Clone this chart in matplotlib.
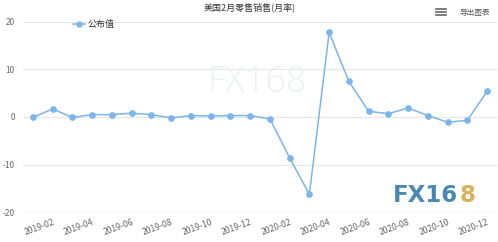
import matplotlib
matplotlib.use("Agg")
import matplotlib.pyplot as plt
from matplotlib.lines import Line2D

plt.rcParams['font.family'] = ['Noto Sans CJK SC', 'DejaVu Sans']

months = ['2019-01', '2019-02', '2019-03', '2019-04', '2019-05', '2019-06',
          '2019-07', '2019-08', '2019-09', '2019-10', '2019-11', '2019-12',
          '2020-01', '2020-02', '2020-03', '2020-04', '2020-05', '2020-06',
          '2020-07', '2020-08', '2020-09', '2020-10', '2020-11', '2020-12']
values = [-0.1, 1.7, -0.1, 0.5, 0.5, 0.8, 0.5, -0.2, 0.3, 0.2, 0.3, 0.3,
          -0.4, -8.6, -16.3, 17.8, 7.5, 1.2, 0.7, 1.9, 0.3, -1.1, -0.7, 5.4]
yticks = [-20, -10, 0, 10, 20]
series_name = '公布值'
title = '美国2月零售销售(月率)'

W, H = 498, 242
fig = plt.figure(figsize=(W / 100, H / 100), dpi=100)
ax = fig.add_axes([23 / W, (H - 212) / H, (497 - 23) / W, (212 - 22) / H])

line_color = '#7cb5ec'
x = list(range(len(months)))
ax.plot(x, values, color=line_color, lw=1.1, marker='o', ms=3.8,
        markerfacecolor=line_color, markeredgecolor=line_color, zorder=3)

ax.set_xlim(-0.5, len(months) - 0.5)
ax.set_ylim(-20, 20)
ax.set_yticks(yticks)
ax.set_yticklabels([str(v) for v in yticks])
for v in yticks[1:]:
    ax.axhline(v, color='#e6e6e6', lw=0.8, zorder=0)
ax.axhline(-20, color='#ccd6eb', lw=1.0, zorder=1)

for s in ax.spines.values():
    s.set_visible(False)

xt = x[1::2]
ax.set_xticks(xt)
ax.set_xticklabels([months[i] for i in xt], rotation=20, ha='right',
                   rotation_mode='anchor', fontsize=6.2, color='#666666')
ax.tick_params(axis='x', length=0, pad=4)
ax.tick_params(axis='y', length=0, pad=6, labelsize=6, labelcolor='#666666')

# title
fig.text(250 / W, 1 - 7 / H, title, ha='center', va='center', fontsize=6.5, color='#333333')

# legend
fig.add_artist(Line2D([73 / W, 85 / W], [1 - 24 / H, 1 - 24 / H], color=line_color, lw=1.1,
                      transform=fig.transFigure))
fig.add_artist(Line2D([79 / W], [1 - 24 / H], color=line_color, marker='o', ms=3.5,
                      ls='none', transform=fig.transFigure))
fig.text(88 / W, 1 - 24 / H, series_name, ha='left', va='center', fontsize=6.5, color='#333333')

# menu icon and export text
for dy in (9, 12, 15):
    fig.add_artist(Line2D([436 / W, 446 / W], [1 - dy / H, 1 - dy / H], color='#666666', lw=1.2,
                          transform=fig.transFigure))
fig.text(459 / W, 1 - 13 / H, '导出图表', ha='left', va='center', fontsize=5.5, color='#555555')

# watermark
fig.text(257 / W, 1 - 82 / H, 'FX168', ha='center', va='center', fontsize=26,
         color='#edf1f3', zorder=0, family='Open Sans', fontweight='light')

# logo
t1 = fig.text(393 / W, 1 - 196 / H, 'FX16', ha='left', va='center', fontsize=16.5,
              fontweight='bold', color='#4a88b4', family='DejaVu Sans')
fig.canvas.draw()
bb = t1.get_window_extent(renderer=fig.canvas.get_renderer())
fig.text(bb.x1 / W + 1 / W, 1 - 196 / H, '8', ha='left', va='center', fontsize=16.5,
         fontweight='bold', color='#d9b25a', family='DejaVu Sans')

fig.savefig('out.png', dpi=100)
